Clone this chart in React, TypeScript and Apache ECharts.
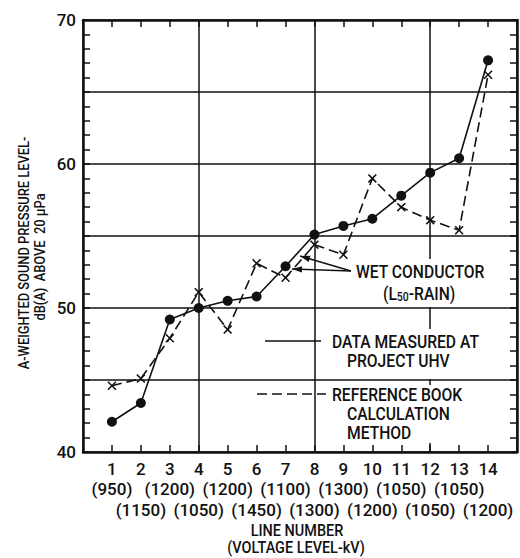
import React, { useEffect, useRef } from 'react';
import * as echarts from 'echarts';

const lineNumbers = [1, 2, 3, 4, 5, 6, 7, 8, 9, 10, 11, 12, 13, 14];
const voltages = [950, 1150, 1200, 1050, 1200, 1450, 1100, 1300, 1300, 1200, 1050, 1050, 1050, 1200];
const measured = [42.1, 43.4, 49.2, 50.0, 50.5, 50.8, 52.9, 55.1, 55.7, 56.2, 57.8, 59.4, 60.4, 67.2];
const reference = [44.6, 45.1, 47.9, 51.1, 48.5, 53.1, 52.1, 54.4, 53.7, 59.0, 57.0, 56.1, 55.4, 66.2];
const yTickLabels = [40, 50, 60, 70];

const FONT = 'Roboto, "Liberation Sans", sans-serif';
const INK = '#111';

function arrowHead(tx: number, ty: number, fx: number, fy: number) {
  const dx = tx - fx, dy = ty - fy;
  const len = Math.sqrt(dx * dx + dy * dy);
  const ux = dx / len, uy = dy / len;
  const L = 10, W = 3.2;
  const bx = tx - ux * L, by = ty - uy * L;
  return [[tx, ty], [bx - uy * W, by + ux * W], [bx + uy * W, by - ux * W]];
}

export default function App() {
  const ref = useRef<HTMLDivElement>(null);
  useEffect(() => {
    const chart = echarts.init(ref.current!, undefined, { renderer: 'svg' });
    const labelStyle = { color: INK, fontSize: 17, fontFamily: FONT, fontWeight: 500 as any };
    const frameLine = { show: true, onZero: false, lineStyle: { color: INK, width: 2.5 } };
    const innerTick = { show: true, inside: true, length: 7, lineStyle: { color: INK, width: 1.5 } };
    const none = { show: false };
    const xBase = { type: 'value' as const, min: 0, max: 15, interval: 1 };
    const yBase = { type: 'value' as const, min: 40, max: 70, interval: 1 };

    const txt = (text: string, x: number, y: number, opts: any = {}) => ({
      type: 'text', x, y, z: 10,
      scaleX: opts.scaleX ?? 0.87,
      rotation: opts.rotation ?? 0,
      style: {
        text, fill: INK, fontSize: opts.fontSize ?? 18, fontFamily: FONT, fontWeight: 500,
        align: opts.align ?? 'left', verticalAlign: 'middle', rich: opts.rich,
      },
    });

    const wetFrom = [351, 271];
    const tips = [[300, 256], [292, 269]];

    chart.setOption({
      animation: false,
      grid: { left: 83, right: 2, top: 20, bottom: 106, containLabel: false },
      xAxis: [
        {
          ...xBase, position: 'bottom', axisLine: frameLine, axisTick: innerTick,
          axisLabel: { ...labelStyle, margin: 8, formatter: (v: number) => (lineNumbers.includes(v) ? String(v) : '') },
          splitLine: none,
        },
        { ...xBase, position: 'top', axisLine: frameLine, axisTick: innerTick, axisLabel: none, splitLine: none },
        {
          type: 'value', min: 0, max: 15, interval: 4, position: 'bottom',
          axisLine: none, axisTick: none, axisLabel: none,
          splitLine: { show: true, lineStyle: { color: INK, width: 1.5 } },
        },
        {
          ...xBase, position: 'bottom', offset: 20, axisLine: none, axisTick: none, splitLine: none,
          axisLabel: {
            ...labelStyle, margin: 8,
            formatter: (v: number) => (lineNumbers.includes(v) && v % 2 === 1 ? `(${voltages[v - 1]})` : ''),
          },
        },
        {
          ...xBase, position: 'bottom', offset: 41, axisLine: none, axisTick: none, splitLine: none,
          axisLabel: {
            ...labelStyle, margin: 8,
            formatter: (v: number) => (lineNumbers.includes(v) && v % 2 === 0 ? `(${voltages[v - 1]})` : ''),
          },
        },
      ],
      yAxis: [
        {
          ...yBase, position: 'left', axisLine: frameLine, axisTick: innerTick,
          axisLabel: { ...labelStyle, margin: 7, formatter: (v: number) => (yTickLabels.includes(v) ? String(v) : '') },
          splitLine: none,
        },
        { ...yBase, position: 'right', axisLine: frameLine, axisTick: innerTick, axisLabel: none, splitLine: none },
        {
          type: 'value', min: 40, max: 70, interval: 5, position: 'left',
          axisLine: none, axisTick: none, axisLabel: none,
          splitLine: { show: true, lineStyle: { color: INK, width: 1.5 } },
        },
      ],
      series: [
        {
          name: 'Data measured at Project UHV', type: 'line', xAxisIndex: 0, yAxisIndex: 0, z: 4,
          data: lineNumbers.map((n, i) => [n, measured[i]]),
          symbol: 'circle', symbolSize: 10,
          lineStyle: { color: INK, width: 1.6 }, itemStyle: { color: INK },
        },
        {
          name: 'Reference book calculation method', type: 'line', xAxisIndex: 0, yAxisIndex: 0, z: 3,
          data: lineNumbers.map((n, i) => [n, reference[i]]),
          symbol: 'path://M0,1.2 L1.2,0 L5,3.8 L8.8,0 L10,1.2 L6.2,5 L10,8.8 L8.8,10 L5,6.2 L1.2,10 L0,8.8 L3.8,5 Z',
          symbolSize: 9,
          lineStyle: { color: INK, width: 1.6, type: [10, 5] }, itemStyle: { color: INK },
        },
      ],
      graphic: [
        { type: 'rect', z: 1, shape: { x: 352, y: 259, width: 140, height: 48 }, style: { fill: '#fff' } },
        { type: 'rect', z: 1, shape: { x: 328, y: 329, width: 166, height: 50 }, style: { fill: '#fff' } },
        { type: 'rect', z: 1, shape: { x: 328, y: 385, width: 140, height: 58 }, style: { fill: '#fff' } },
        // arrows
        ...tips.map(([tx, ty]) => ({
          type: 'line', z: 10, shape: { x1: wetFrom[0], y1: wetFrom[1], x2: tx, y2: ty },
          style: { stroke: INK, lineWidth: 1.4 },
        })),
        ...tips.map(([tx, ty]) => ({
          type: 'polygon', z: 10, shape: { points: arrowHead(tx, ty, wetFrom[0], wetFrom[1]) },
          style: { fill: INK },
        })),
        txt('WET CONDUCTOR', 356, 272),
        txt('{a|(L}{s|50}{a|-RAIN)}', 383, 294, {
          rich: {
            a: { fontSize: 18, fontFamily: FONT, fontWeight: 500, fill: INK, lineHeight: 18, verticalAlign: 'top' },
            s: { fontSize: 12, fontFamily: FONT, fontWeight: 500, fill: INK, lineHeight: 12, padding: [10, 0, 0, 0], verticalAlign: 'bottom' },
          },
        }),
        { type: 'line', z: 10, shape: { x1: 265, y1: 341, x2: 321, y2: 341 }, style: { stroke: INK, lineWidth: 1.5 } },
        txt('DATA MEASURED AT', 332, 342),
        txt('PROJECT UHV', 347, 361),
        { type: 'line', z: 10, shape: { x1: 257, y1: 394, x2: 326, y2: 394 }, style: { stroke: INK, lineWidth: 1.5, lineDash: [10, 5] } },
        txt('REFERENCE BOOK', 332, 395),
        txt('CALCULATION', 347, 414),
        txt('METHOD', 347, 433),
        // axis titles
        txt('LINE NUMBER', 297, 530, { align: 'center', scaleX: 0.85, fontSize: 17 }),
        txt('(VOLTAGE LEVEL-kV)', 296, 547, { align: 'center', scaleX: 0.85, fontSize: 17 }),
        txt('A-WEIGHTED SOUND PRESSURE LEVEL-', 24, 253, { align: 'center', rotation: Math.PI / 2, fontSize: 14, scaleX: 0.92 }),
        txt('dB(A)  ABOVE  20 μPa', 40, 257, { align: 'center', rotation: Math.PI / 2, fontSize: 14, scaleX: 0.92 }),
      ],
    });
    return () => chart.dispose();
  }, []);
  return <div ref={ref} style={{ position: 'absolute', left: 0, top: 0, width: 520, height: 558, background: '#fff' }} />;
}
